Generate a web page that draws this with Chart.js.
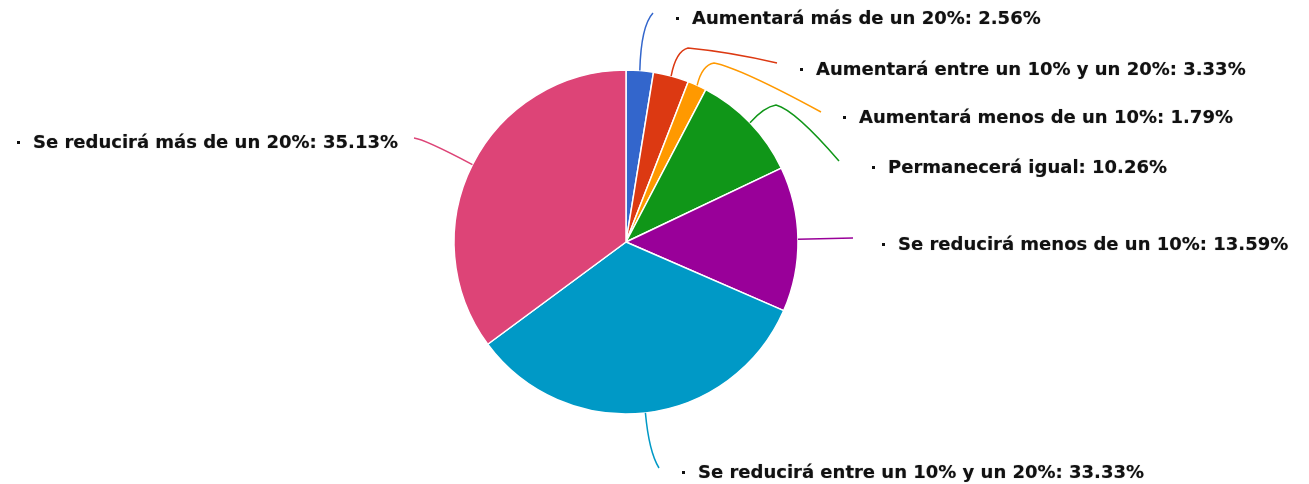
<!DOCTYPE html>
<html>
<head>
<meta charset="utf-8">
<script src="https://cdn.jsdelivr.net/npm/chart.js@4"></script>
<style>
  html, body { margin: 0; padding: 0; background: #fff; }
  #wrap { width: 1309px; height: 484px; position: relative; }
</style>
</head>
<body>
<div id="wrap"><canvas id="pieChart" width="1309" height="484"></canvas></div>
<script>
// data
const categories = [
  'Aumentará más de un 20%',
  'Aumentará entre un 10% y un 20%',
  'Aumentará menos de un 10%',
  'Permanecerá igual',
  'Se reducirá menos de un 10%',
  'Se reducirá entre un 10% y un 20%',
  'Se reducirá más de un 20%'
];
const percents = [2.56, 3.33, 1.79, 10.26, 13.59, 33.33, 35.13];
const sliceColors = ['#3366CC', '#DC3912', '#FF9900', '#109618', '#990099', '#0099C6', '#DD4477'];

// where each label sits and how its connector bends (layout only)
const labelSpots = [
  { tx: 692, ty: 18, path: [[641, 26, 653, 13]] },
  { tx: 816, ty: 69, path: [[676, 51, 688, 48], [730, 52, 777, 63]] },
  { tx: 859, ty: 117, path: [[702, 65, 714, 63], [740, 68, 821, 112]] },
  { tx: 888, ty: 167, path: [[764, 107, 776, 105], [795, 110, 839, 161]] },
  { tx: 898, ty: 244, path: [[853, 238]] },
  { tx: 698, ty: 472, path: [[649, 452, 659, 468]] },
  { tx: 33, ty: 142, path: [[424, 139, 414, 138]] }
];

const outLabels = {
  id: 'outLabels',
  afterDatasetsDraw(chart) {
    const ctx = chart.ctx;
    const meta = chart.getDatasetMeta(0);
    ctx.save();
    meta.data.forEach((arc, i) => {
      const mid = (arc.startAngle + arc.endAngle) / 2;
      const sx = arc.x + Math.cos(mid) * arc.outerRadius;
      const sy = arc.y + Math.sin(mid) * arc.outerRadius;
      const spot = labelSpots[i];
      ctx.beginPath();
      ctx.moveTo(sx, sy);
      spot.path.forEach(p => {
        if (p.length === 4) ctx.quadraticCurveTo(p[0], p[1], p[2], p[3]);
        else ctx.lineTo(p[0], p[1]);
      });
      ctx.strokeStyle = sliceColors[i];
      ctx.lineWidth = 1.5;
      ctx.stroke();

      // bullet + text
      ctx.fillStyle = '#111';
      ctx.fillRect(spot.tx - 16, spot.ty - 1, 3, 3);
      ctx.font = 'bold 18px "DejaVu Sans"';
      ctx.textBaseline = 'middle';
      ctx.textAlign = 'left';
      ctx.shadowColor = 'rgba(0,0,0,0.4)';
      ctx.shadowBlur = 1;
      ctx.fillText(categories[i] + ': ' + percents[i].toFixed(2) + '%', spot.tx, spot.ty + 1);
      ctx.shadowBlur = 0;
    });
    ctx.restore();
  }
};

const chart = new Chart(document.getElementById('pieChart').getContext('2d'), {
  type: 'pie',
  data: {
    labels: categories,
    datasets: [{
      data: percents,
      backgroundColor: sliceColors,
      borderColor: '#ffffff',
      borderWidth: 1.5
    }]
  },
  options: {
    responsive: false,
    animation: false,
    radius: 172,
    layout: { padding: { left: 0, right: 57, top: 0, bottom: 0 } },
    plugins: {
      legend: { display: false },
      tooltip: { enabled: false }
    }
  },
  plugins: [outLabels]
});
</script>
</body>
</html>
